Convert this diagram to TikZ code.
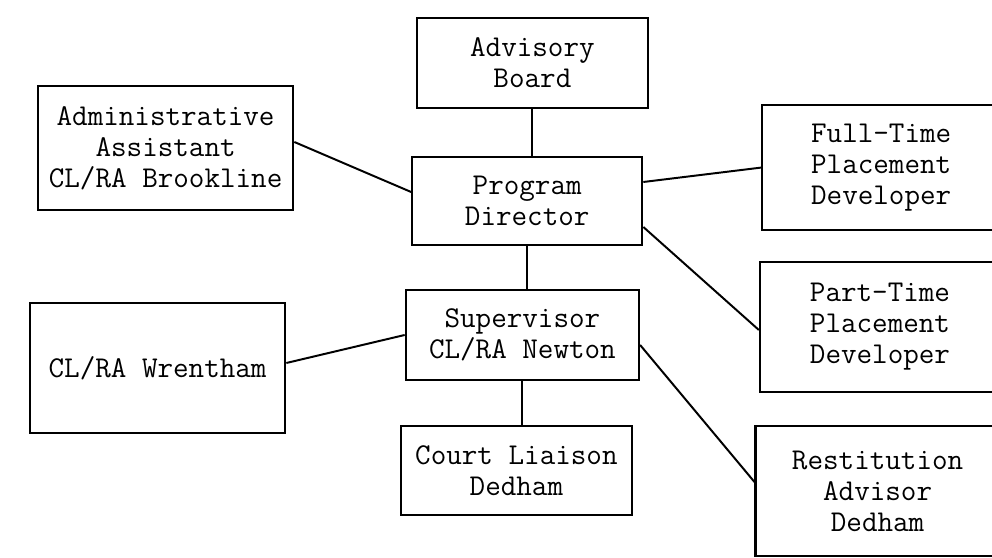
\documentclass[tikz,border=0pt]{standalone}
\usepackage{fontspec}
\usepackage{tikz}
\usetikzlibrary{positioning,calc}

\begin{document}
\begin{tikzpicture}[
    box/.style={rectangle, draw, line width=1.6pt, align=center, inner sep=2pt, font=\ttfamily\fontsize{21.5}{22}\selectfont},
    link/.style={line width=1.4pt}
]
    \useasboundingbox (0,0) rectangle (24.8,13.95);
    \clip (0,0) rectangle (24.8,13.95);

    % Top of the chart
    \node[box, minimum width=5.78cm, minimum height=2.25cm] (advisory) at (13.31,12.375) {Advisory\\Board};
    \node[box, minimum width=5.75cm, minimum height=2.2cm] (director) at (13.18,8.925) {Program\\Director};

    % Left side
    \node[box, minimum width=6.38cm, minimum height=3.1cm] (admin) at (4.14,10.25) {Administrative\\Assistant\\CL/RA Brookline};
    \node[box, minimum width=6.38cm, minimum height=3.25cm] (wrentham) at (3.94,4.75) {CL/RA Wrentham};

    % Middle column
    \node[box, minimum width=5.83cm, minimum height=2.25cm] (supervisor) at (13.06,5.575) {Supervisor\\CL/RA Newton};
    \node[box, minimum width=5.78cm, minimum height=2.22cm] (liaison) at (12.91,2.19) {Court Liaison\\Dedham};

    % Right side (runs off the page)
    \node[box, minimum width=5.95cm, minimum height=3.125cm] (fulltime) at (22.03,9.76) {Full-Time\\Placement\\Developer};
    \node[box, minimum width=6.0cm, minimum height=3.25cm] (parttime) at (22.0,5.775) {Part-Time\\Placement\\Developer};
    \node[box, minimum width=6.1cm, minimum height=3.25cm] (restitution) at (21.94,1.675) {Restitution\\Advisor\\Dedham};

    % Connectors
    \draw[link] (advisory.south) -- (advisory.south |- director.north);
    \draw[link] (director.south) -- (director.south |- supervisor.north);
    \draw[link] (supervisor.south) -- (supervisor.south |- liaison.north);
    \draw[link] ([yshift=0.15cm]admin.east) -- ([yshift=0.225cm]director.west);
    \draw[link] ([yshift=0.475cm]director.east) -- (fulltime.west);
    \draw[link] ([yshift=-0.65cm]director.east) -- ([yshift=-0.075cm]parttime.west);
    \draw[link] ([yshift=0.125cm]wrentham.east) -- (supervisor.west);
    \draw[link] ([yshift=-0.25cm]supervisor.east) -- ([yshift=0.225cm]restitution.west);
\end{tikzpicture}
\end{document}
